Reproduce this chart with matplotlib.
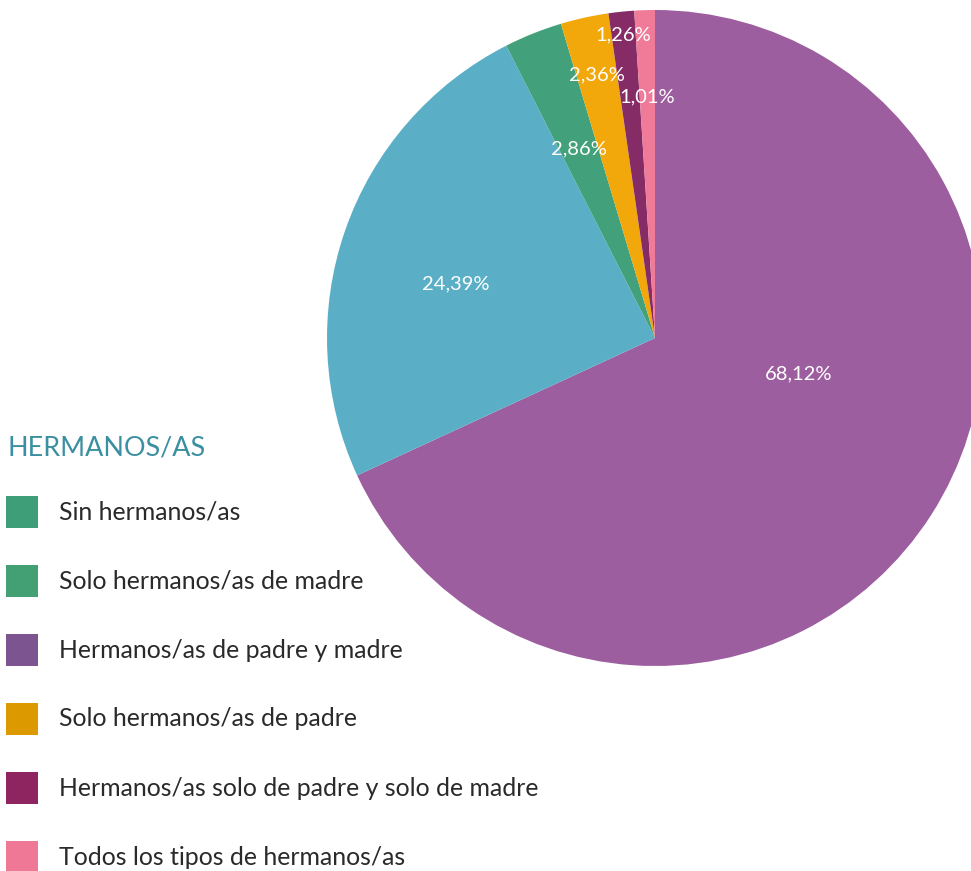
import numpy as np
import matplotlib
matplotlib.use("Agg")
import matplotlib.pyplot as plt
from matplotlib.patches import Rectangle

# Datos del gráfico
porcentajes = [68.12, 24.39, 2.86, 2.36, 1.26, 1.01]
colores_pie = ['#9c5e9f', '#5aafc6', '#42a07a', '#f2a70a', '#852c66', '#ef7b98']
etiquetas = ['68,12%', '24,39%', '2,86%', '2,36%', '1,26%', '1,01%']

leyenda = ['Sin hermanos/as',
           'Solo hermanos/as de madre',
           'Hermanos/as de padre y madre',
           'Solo hermanos/as de padre',
           'Hermanos/as solo de padre y solo de madre',
           'Todos los tipos de hermanos/as']
colores_leyenda = ['#3e9e77', '#42a074', '#7c5590', '#dd9a00', '#8e2460', '#ee7895']

# distancia (radio relativo) y giro de cada etiqueta
dist_etiqueta = [0.45, 0.63, 0.62, 0.82, 0.93, 0.735]
giro_etiqueta = [18.6, 4.0, 0.0, 0.0, 0.0, 0.0]

W, H = 971, 871
fig = plt.figure(figsize=(W / 100, H / 100), dpi=100)

# Tarta: centro (655, 338) px, radio 328 px
cx, cy, r = 655, 338, 328
ax = fig.add_axes([(cx - r) / W, (H - cy - r) / H, 2 * r / W, 2 * r / H])
wedges, _ = ax.pie(porcentajes, colors=colores_pie, startangle=90,
                   counterclock=False, radius=1,
                   wedgeprops=dict(linewidth=0))
ax.set_xlim(-1, 1)
ax.set_ylim(-1, 1)
ax.axis('off')

for w, txt, d, g in zip(wedges, etiquetas, dist_etiqueta, giro_etiqueta):
    ang = np.deg2rad((w.theta1 + w.theta2) / 2 + g)
    ax.text(d * np.cos(ang), d * np.sin(ang), txt, color='white',
            ha='center', va='center', fontsize=14.5,
            family='Lato', weight='normal')

# Leyenda manual
fig.text(7 / W, 1 - 448 / H, 'HERMANOS/AS', color='#3a8fa0',
         fontsize=19.4, family='Lato', weight='normal', va='center', ha='left')

y0, paso = 512, 69
for i, (lab, col) in enumerate(zip(leyenda, colores_leyenda)):
    y = y0 + i * paso
    fig.add_artist(Rectangle((6 / W, 1 - (y + 16) / H), 32 / W, 32 / H,
                             transform=fig.transFigure, color=col, lw=0))
    fig.text(59 / W, 1 - y / H, lab, color='#2a2a2a', fontsize=17.9,
             family='Lato', weight='normal', va='center', ha='left')

fig.savefig('out.png', dpi=100)
